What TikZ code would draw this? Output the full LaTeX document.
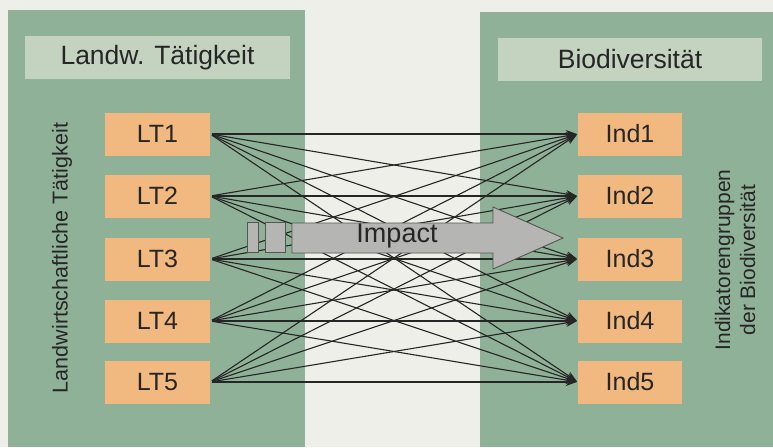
\documentclass[tikz,border=0pt]{standalone}
\usepackage{fontspec}
\setmainfont{Liberation Sans}
\usetikzlibrary{arrows.meta}
\definecolor{bgcol}{HTML}{EFEFE9}
\definecolor{panelcol}{HTML}{8FB197}
\definecolor{headcol}{HTML}{C4D2C0}
\definecolor{boxcol}{HTML}{F1B87F}
\definecolor{inkcol}{HTML}{262626}
\definecolor{arrowfill}{HTML}{B5B5B3}
\definecolor{arrowline}{HTML}{555555}
\tikzset{
  header/.style={fill=headcol, minimum width=265pt, minimum height=43pt,
    inner sep=0pt, text=inkcol, font=\fontsize{26.5}{30}\selectfont},
  itembox/.style={fill=boxcol, minimum width=105pt, minimum height=43pt,
    inner sep=0pt, text=inkcol, font=\fontsize{25}{30}\selectfont},
  sidelabel/.style={rotate=90, text=inkcol, align=center,
    font=\fontsize{21.5}{25}\selectfont},
  conn/.style={draw=inkcol, line width=1.1pt,
    -{Stealth[length=11pt,width=8pt]}, shorten <=2pt, shorten >=1pt},
  impactshape/.style={fill=arrowfill, draw=arrowline, line width=0.9pt},
}
\begin{document}
\begin{tikzpicture}[x=1pt,y=-1pt]
\useasboundingbox (0,0) rectangle (773,447);
% background and the two panels
\fill[bgcol] (0,0) rectangle (773,447);
\fill[panelcol] (8,10) rectangle (305,447);
\fill[panelcol] (480,12) rectangle (773,447);
% panel headers
\node[header] (hl) at (157.5,57.5) {Landw. Tätigkeit};
\node[header, minimum width=264pt] (hr) at (630,59) {Biodiversität};
% side labels
\node[sidelabel] (sl) at (62,258) {Landwirtschaftliche Tätigkeit};
\node[sidelabel, font=\fontsize{21}{25}\selectfont] (sr) at (735,260)
  {Indikatorengruppen\\der Biodiversität};
% activity and indicator boxes
\foreach \i/\y in {1/134,2/196,3/259,4/321,5/382}{
  \node[itembox] (lt\i) at (157.5,\y) {LT\i};
  \node[itembox, minimum width=104pt] (ind\i) at (630,\y) {Ind\i};
}
% every activity to every indicator
\foreach \i in {1,...,5}{
  \foreach \j in {1,...,5}{
    \draw[conn] (lt\i.east) -- (ind\j.west);
  }
}
% striped impact arrow
\filldraw[impactshape] (247,222) rectangle (258,252);
\filldraw[impactshape] (265,222) rectangle (285,252);
\filldraw[impactshape] (292,223) -- (493,223) -- (493,207) -- (563,238)
  -- (493,269) -- (493,253) -- (292,253) -- cycle;
\node[text=inkcol, font=\fontsize{27}{30}\selectfont] (imp) at (397,236) {Impact};
\end{tikzpicture}
\end{document}
